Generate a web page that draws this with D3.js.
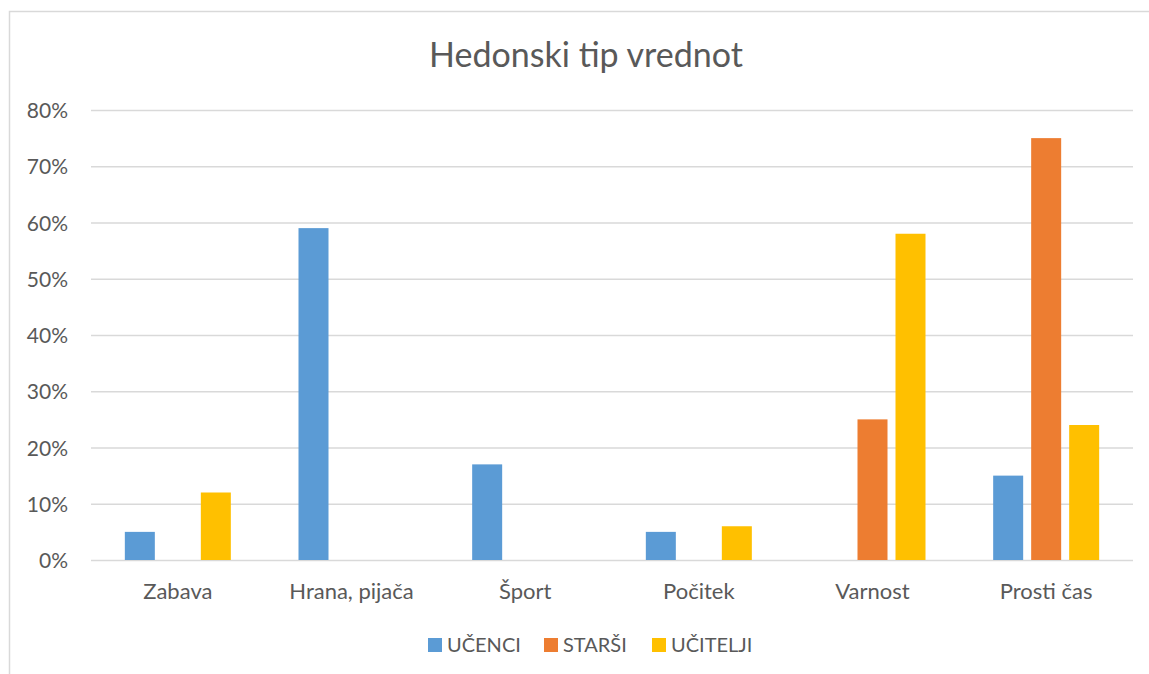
<!DOCTYPE html>
<html><head><meta charset="utf-8">
<script src="https://cdn.jsdelivr.net/npm/d3@7"></script>
<style>
html,body{margin:0;padding:0;background:#fff;}
text{font-family:Lato,"Open Sans",sans-serif;fill:#595959;}
</style></head>
<body><svg id="c" width="1149" height="674"></svg>
<script>
const categories = ["Zabava","Hrana, pijača","Šport","Počitek","Varnost","Prosti čas"];
const seriesNames = ["UČENCI","STARŠI","UČITELJI"];
const ucenci   = [5, 59, 17, 5, 0, 15];
const starsi   = [0, 0, 0, 0, 25, 75];
const ucitelji = [12, 0, 0, 6, 58, 24];
const colors = ["#5B9BD5","#ED7D31","#FFC000"];
const yTicks = [0,10,20,30,40,50,60,70,80];
const title = "Hedonski tip vrednot";

const values = [ucenci, starsi, ucitelji];
const svg = d3.select("#c");

// chart border
svg.append("rect").attr("x",9.5).attr("y",11.5).attr("width",1200).attr("height",700)
  .attr("fill","none").attr("stroke","#d9d9d9").attr("stroke-width",1.5);

const pLeft = 91, pRight = 1133, pTop = 110, pBottom = 560;
const x = d3.scaleBand().domain(categories).range([pLeft,pRight]).paddingInner(0).paddingOuter(0);
const y = d3.scaleLinear().domain([0,80]).range([pBottom,pTop]);
const cat = x.bandwidth();
const groupW = 106;
const xs = d3.scaleBand().domain(seriesNames).range([(cat-groupW)/2,(cat+groupW)/2]).paddingInner(8/38).paddingOuter(0);

// gridlines
const yAxis = d3.axisLeft(y).tickValues(yTicks).tickFormat(d=>d+"%").tickSize(-(pRight-pLeft)).tickPadding(23);
const ga = svg.append("g").attr("transform",`translate(${pLeft},0)`).call(yAxis);
ga.select(".domain").remove();
ga.selectAll(".tick line").attr("stroke","#d9d9d9").attr("stroke-width",1.5);
ga.selectAll(".tick text").style("font-size","21px").attr("fill","#595959").attr("dy","0.36em");

// bars
seriesNames.forEach((s,si)=>{
  svg.append("g").selectAll("rect").data(categories).join("rect")
    .attr("x",c=>x(c)+xs(s))
    .attr("width",xs.bandwidth())
    .attr("y",(c,i)=>y(values[si][i]))
    .attr("height",(c,i)=>pBottom-y(values[si][i]))
    .attr("fill",colors[si]);
});

// x axis labels
const xAxis = d3.axisBottom(x).tickSize(0).tickPadding(0);
const gx = svg.append("g").attr("transform",`translate(0,${pBottom})`).call(xAxis);
gx.select(".domain").remove();
gx.selectAll(".tick text").style("font-size","22px").attr("fill","#595959").attr("y",39).attr("dy",0);

// title
svg.append("text").attr("x",586).attr("y",67).attr("text-anchor","middle")
  .style("font-size","34px").text(title);

// legend
const legendX = [428, 544, 652];
const lg = svg.append("g");
seriesNames.forEach((s,i)=>{
  lg.append("rect").attr("x",legendX[i]).attr("y",638).attr("width",14).attr("height",14).attr("fill",colors[i]);
  lg.append("text").attr("x",legendX[i]+19).attr("y",652).style("font-size","20px").text(s);
});
</script></body></html>
